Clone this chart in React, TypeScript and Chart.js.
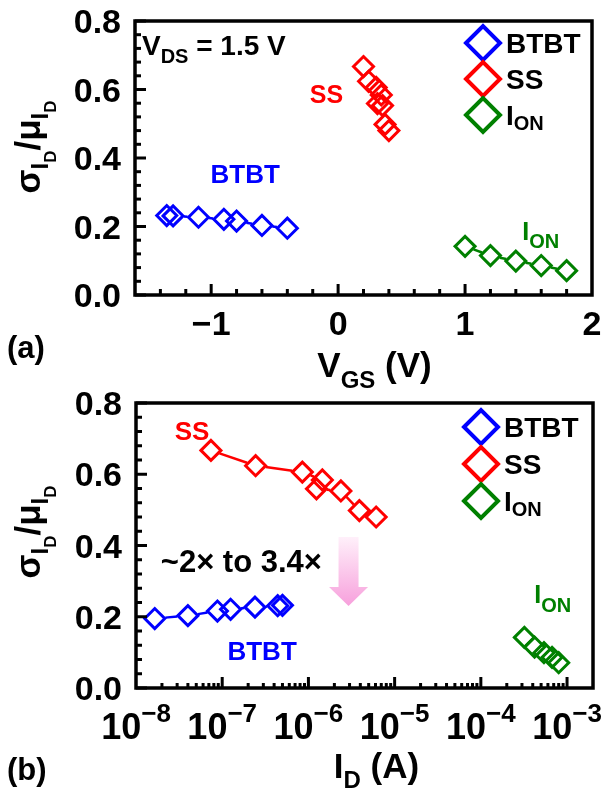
import React, { useEffect, useRef } from 'react';
import { Chart, registerables } from 'chart.js';

Chart.register(...registerables);

// ---------------- data ----------------
const btbtVgs = [-1.35, -1.3, -1.1, -0.9, -0.8, -0.6, -0.4];
const btbtId = [5.0e-7, 4.4e-7, 2.4e-7, 1.25e-7, 8.8e-8, 4.0e-8, 1.65e-8];
const btbtSigma = [0.232, 0.231, 0.227, 0.221, 0.216, 0.203, 0.195];

const ssVgs = [0.2, 0.24, 0.3, 0.34, 0.31, 0.35, 0.37, 0.4];
const ssId = [7.4e-8, 2.44e-7, 8.5e-7, 1.45e-6, 1.24e-6, 2.38e-6, 3.9e-6, 6.1e-6];
const ssSigma = [0.667, 0.624, 0.606, 0.584, 0.559, 0.553, 0.498, 0.48];

const ionVgs = [1.0, 1.2, 1.4, 1.6, 1.8];
const ionId = [3.2e-4, 4.2e-4, 5.4e-4, 6.7e-4, 8.0e-4];
const ionSigma = [0.142, 0.115, 0.099, 0.086, 0.071];

const yTickValues = [0, 0.2, 0.4, 0.6, 0.8];
const vgsTickValues = [-1, 0, 1, 2];
const idTickExponents = [-8, -7, -6, -5, -4, -3];

// ---------------- styles ----------------
const BLUE = '#0000ff';
const RED = '#ff0000';
const GREEN = '#008000';
const FONT = '"Liberation Sans", Arial, Helvetica, sans-serif';
const font = (s: number) => `bold ${s}px ${FONT}`;

type Part = { t: string; s: number; dy?: number };

function partsWidth(ctx: CanvasRenderingContext2D, parts: Part[]) {
  let w = 0;
  for (const p of parts) {
    ctx.font = font(p.s);
    w += ctx.measureText(p.t).width;
  }
  return w;
}

function drawParts(
  ctx: CanvasRenderingContext2D,
  x: number,
  y: number,
  parts: Part[],
  align: 'left' | 'center' | 'right',
  color: string
) {
  const w = partsWidth(ctx, parts);
  let cx = align === 'center' ? x - w / 2 : align === 'right' ? x - w : x;
  ctx.textAlign = 'left';
  ctx.textBaseline = 'alphabetic';
  ctx.fillStyle = color;
  for (const p of parts) {
    ctx.font = font(p.s);
    ctx.fillText(p.t, cx, y + (p.dy || 0));
    cx += ctx.measureText(p.t).width;
  }
}

function diamond(ctx: CanvasRenderingContext2D, x: number, y: number, r: number, color: string, lw: number) {
  ctx.beginPath();
  ctx.moveTo(x - r, y);
  ctx.lineTo(x, y - r);
  ctx.lineTo(x + r, y);
  ctx.lineTo(x, y + r);
  ctx.closePath();
  ctx.strokeStyle = color;
  ctx.lineWidth = lw;
  ctx.lineJoin = 'miter';
  ctx.stroke();
}

const POINT_R = 10;

// lines between symbols, with a gap at each hollow diamond
const gapLines = {
  id: 'gapLines',
  beforeDatasetsDraw(chart: any) {
    const ctx = chart.ctx as CanvasRenderingContext2D;
    const { left, top, right, bottom } = chart.chartArea;
    ctx.save();
    ctx.beginPath();
    ctx.rect(left, top, right - left, bottom - top);
    ctx.clip();
    chart.data.datasets.forEach((ds: any, i: number) => {
      const pts = chart.getDatasetMeta(i).data;
      const r = POINT_R + 1.5;
      ctx.strokeStyle = ds.borderColor;
      ctx.lineWidth = 2.5;
      for (let k = 0; k < pts.length - 1; k++) {
        const a = pts[k];
        const b = pts[k + 1];
        const dx = b.x - a.x;
        const dy = b.y - a.y;
        const len = Math.hypot(dx, dy);
        if (len === 0) continue;
        const ux = dx / len;
        const uy = dy / len;
        const t = r / (Math.abs(ux) + Math.abs(uy));
        if (len <= 2 * t) continue;
        ctx.beginPath();
        ctx.moveTo(a.x + ux * t, a.y + uy * t);
        ctx.lineTo(b.x - ux * t, b.y - uy * t);
        ctx.stroke();
      }
    });
    ctx.restore();
  },
};

function makeDataset(label: string, xs: number[], ys: number[], color: string) {
  return {
    label,
    data: xs.map((x, i) => ({ x, y: ys[i] })),
    borderColor: color,
    backgroundColor: 'rgba(0,0,0,0)',
    pointStyle: 'rectRot',
    pointRadius: POINT_R,
    pointHoverRadius: POINT_R,
    pointBorderWidth: 3,
    pointBorderColor: color,
    pointBackgroundColor: 'rgba(0,0,0,0)',
    showLine: false,
  };
}

const legendItems: { color: string; parts: Part[] }[] = [
  { color: BLUE, parts: [{ t: 'BTBT', s: 28 }] },
  { color: RED, parts: [{ t: 'SS', s: 28 }] },
  { color: GREEN, parts: [{ t: 'I', s: 28 }, { t: 'ON', s: 20, dy: 5 }] },
];

function drawLegend(ctx: CanvasRenderingContext2D, x: number, y0: number, step: number) {
  legendItems.forEach((it, i) => {
    const cy = y0 + i * step;
    diamond(ctx, x, cy, 17, it.color, 4);
    drawParts(ctx, x + 23, cy + 10, it.parts, 'left', '#000');
  });
}

function drawYAxis(ctx: CanvasRenderingContext2D, chart: any, titleCenterY: number) {
  const ys = chart.scales.y;
  const { left } = chart.chartArea;
  ctx.strokeStyle = '#000';
  ctx.lineWidth = 3;
  for (let k = 0; k <= 20; k++) {
    const py = ys.getPixelForValue(k * 0.04);
    const len = k % 5 === 0 ? 11 : 6;
    ctx.beginPath();
    ctx.moveTo(left, py);
    ctx.lineTo(left + len, py);
    ctx.stroke();
  }
  for (const v of yTickValues) {
    const py = ys.getPixelForValue(v);
    drawParts(ctx, left - 14, py + 0.358 * 34, [{ t: v.toFixed(1), s: 34 }], 'right', '#000');
  }
  // rotated title
  ctx.save();
  ctx.translate(40, titleCenterY);
  ctx.rotate(-Math.PI / 2);
  drawParts(
    ctx,
    0,
    0,
    [
      { t: 'σ', s: 35 },
      { t: 'I', s: 24, dy: 8 },
      { t: 'D', s: 17, dy: 16 },
      { t: '/', s: 35 },
      { t: 'μ', s: 35 },
      { t: 'I', s: 24, dy: 8 },
      { t: 'D', s: 17, dy: 16 },
    ],
    'center',
    '#000'
  );
  ctx.restore();
}

function drawFrame(ctx: CanvasRenderingContext2D, chart: any) {
  const { left, top, right, bottom } = chart.chartArea;
  ctx.strokeStyle = '#000';
  ctx.lineWidth = 3.5;
  ctx.strokeRect(left, top, right - left, bottom - top);
}

const decorA = {
  id: 'decorA',
  afterDraw(chart: any) {
    const ctx = chart.ctx as CanvasRenderingContext2D;
    const xs = chart.scales.x;
    const ys = chart.scales.y;
    const { left, right, top, bottom } = chart.chartArea;
    ctx.save();
    // x ticks
    ctx.strokeStyle = '#000';
    ctx.lineWidth = 3;
    for (let k = -7; k <= 9; k++) {
      const px = xs.getPixelForValue(k * 0.2);
      const len = k % 5 === 0 ? 11 : 6;
      ctx.beginPath();
      ctx.moveTo(px, bottom);
      ctx.lineTo(px, bottom - len);
      ctx.stroke();
    }
    drawYAxis(ctx, chart, 147);
    drawFrame(ctx, chart);
    for (const v of vgsTickValues) {
      const px = xs.getPixelForValue(v);
      const label = v < 0 ? '\u2212' + Math.abs(v) : String(v);
      drawParts(ctx, px, bottom + 40, [{ t: label, s: 34 }], 'center', '#000');
    }
    // x title
    drawParts(
      ctx,
      (left + right) / 2 + 11,
      bottom + 82,
      [
        { t: 'V', s: 35 },
        { t: 'GS', s: 24, dy: 11 },
        { t: ' (V)', s: 35 },
      ],
      'center',
      '#000'
    );
    // panel label
    drawParts(ctx, 7, 358, [{ t: '(a)', s: 31 }], 'left', '#000');
    // annotations
    drawParts(ctx, xs.getPixelForValue(-1.545), ys.getPixelForValue(0.7), [
      { t: 'V', s: 28 },
      { t: 'DS', s: 20, dy: 8 },
      { t: ' = 1.5 V', s: 28 },
    ], 'left', '#000');
    drawParts(ctx, xs.getPixelForValue(-0.223), ys.getPixelForValue(0.561), [{ t: 'SS', s: 25 }], 'left', RED);
    drawParts(ctx, xs.getPixelForValue(-1.005), ys.getPixelForValue(0.327), [{ t: 'BTBT', s: 26 }], 'left', BLUE);
    drawParts(ctx, xs.getPixelForValue(1.45), ys.getPixelForValue(0.161), [
      { t: 'I', s: 25 },
      { t: 'ON', s: 20, dy: 8 },
    ], 'left', GREEN);
    drawLegend(ctx, right - 109, top + 22, 36);
    ctx.restore();
  },
};

const arrowB = {
  id: 'arrowB',
  beforeDatasetsDraw(chart: any) {
    const ctx = chart.ctx as CanvasRenderingContext2D;
    const xs = chart.scales.x;
    const ys = chart.scales.y;
    const cx = xs.getPixelForValue(2.92e-6);
    const yTop = ys.getPixelForValue(0.424);
    const yTip = ys.getPixelForValue(0.23);
    const headH = 19;
    const g = ctx.createLinearGradient(0, yTop, 0, yTip);
    g.addColorStop(0, 'rgb(255,240,250)');
    g.addColorStop(1, 'rgb(247,160,220)');
    ctx.save();
    ctx.fillStyle = g;
    ctx.beginPath();
    ctx.moveTo(cx - 10, yTop);
    ctx.lineTo(cx + 10, yTop);
    ctx.lineTo(cx + 10, yTip - headH);
    ctx.lineTo(cx + 19.5, yTip - headH);
    ctx.lineTo(cx, yTip);
    ctx.lineTo(cx - 19.5, yTip - headH);
    ctx.lineTo(cx - 10, yTip - headH);
    ctx.closePath();
    ctx.fill();
    ctx.restore();
  },
};

const decorB = {
  id: 'decorB',
  afterDraw(chart: any) {
    const ctx = chart.ctx as CanvasRenderingContext2D;
    const xs = chart.scales.x;
    const ys = chart.scales.y;
    const { left, right, top, bottom } = chart.chartArea;
    ctx.save();
    ctx.strokeStyle = '#000';
    ctx.lineWidth = 3;
    for (let e = -8; e <= -3; e++) {
      for (let m = 1; m <= 9; m++) {
        const v = m * Math.pow(10, e);
        if (v > 2.0e-3) continue;
        const px = xs.getPixelForValue(v);
        if (px < left + 1 || px > right - 1) continue;
        const len = m === 1 ? 11 : 5;
        ctx.beginPath();
        ctx.moveTo(px, bottom);
        ctx.lineTo(px, bottom - len);
        ctx.stroke();
      }
    }
    drawYAxis(ctx, chart, 142);
    drawFrame(ctx, chart);
    for (const e of idTickExponents) {
      const px = xs.getPixelForValue(Math.pow(10, e));
      drawParts(ctx, px, bottom + 51, [
        { t: '10', s: 36 },
        { t: '\u2212' + Math.abs(e), s: 26, dy: -17 },
      ], 'center', '#000');
    }
    drawParts(
      ctx,
      (left + right) / 2 + 12,
      bottom + 90,
      [
        { t: 'I', s: 35 },
        { t: 'D', s: 24, dy: 10 },
        { t: ' (A)', s: 35 },
      ],
      'center',
      '#000'
    );
    drawParts(ctx, 7, 390, [{ t: '(b)', s: 31 }], 'left', '#000');
    drawParts(ctx, xs.getPixelForValue(2.81e-8), ys.getPixelForValue(0.696), [{ t: 'SS', s: 26 }], 'left', RED);
    drawParts(ctx, xs.getPixelForValue(1.94e-8), ys.getPixelForValue(0.3256), [{ t: '~2\u00d7 to 3.4\u00d7', s: 31 }], 'left', '#000');
    drawParts(ctx, xs.getPixelForValue(1.15e-7), ys.getPixelForValue(0.0786), [{ t: 'BTBT', s: 26 }], 'left', BLUE);
    drawParts(ctx, xs.getPixelForValue(4.17e-4), ys.getPixelForValue(0.2386), [
      { t: 'I', s: 25 },
      { t: 'ON', s: 20, dy: 9 },
    ], 'left', GREEN);
    drawLegend(ctx, right - 112, top + 24, 37);
    ctx.restore();
  },
};

function baseScales(xType: 'linear' | 'logarithmic', xMin: number, xMax: number, yWidth: number, xHeight: number) {
  return {
    x: {
      type: xType,
      min: xMin,
      max: xMax,
      grid: { display: false },
      border: { display: false },
      ticks: { display: false },
      afterFit: (s: any) => {
        s.height = xHeight;
      },
    },
    y: {
      type: 'linear',
      min: 0,
      max: 0.8,
      grid: { display: false },
      border: { display: false },
      ticks: { display: false },
      afterFit: (s: any) => {
        s.width = yWidth;
      },
    },
  };
}

function configA(): any {
  return {
    type: 'scatter',
    data: {
      datasets: [
        makeDataset('BTBT', btbtVgs, btbtSigma, BLUE),
        makeDataset('SS', ssVgs, ssSigma, RED),
        makeDataset('ION', ionVgs, ionSigma, GREEN),
      ],
    },
    options: {
      responsive: false,
      animation: false,
      devicePixelRatio: 1,
      layout: { padding: { left: 0, top: 21, right: 14, bottom: 0 } },
      plugins: { legend: { display: false }, tooltip: { enabled: false }, title: { display: false } },
      scales: baseScales('linear', -1.6, 2, 135, 95),
    },
    plugins: [gapLines, decorA],
  };
}

function configB(): any {
  return {
    type: 'scatter',
    data: {
      datasets: [
        makeDataset('BTBT', btbtId, btbtSigma, BLUE),
        makeDataset('SS', ssId, ssSigma, RED),
        makeDataset('ION', ionId, ionSigma, GREEN),
      ],
    },
    options: {
      responsive: false,
      animation: false,
      devicePixelRatio: 1,
      layout: { padding: { left: 0, top: 13, right: 10, bottom: 0 } },
      plugins: { legend: { display: false }, tooltip: { enabled: false }, title: { display: false } },
      scales: baseScales('logarithmic', 1e-8, 2e-3, 136, 108),
    },
    plugins: [arrowB, gapLines, decorB],
  };
}

function ChartCanvas({ make, width, height, top }: { make: () => any; width: number; height: number; top: number }) {
  const ref = useRef<HTMLCanvasElement>(null);
  useEffect(() => {
    const chart = new Chart(ref.current as HTMLCanvasElement, make());
    return () => chart.destroy();
  }, []);
  return (
    <canvas
      ref={ref}
      width={width}
      height={height}
      style={{ position: 'absolute', left: 0, top, width, height, display: 'block' }}
    />
  );
}

export default function App() {
  return (
    <div style={{ position: 'absolute', left: 0, top: 0, width: 606, height: 796, background: '#fff', overflow: 'hidden' }}>
      <ChartCanvas make={configA} width={606} height={390} top={0} />
      <ChartCanvas make={configB} width={606} height={406} top={390} />
    </div>
  );
}
